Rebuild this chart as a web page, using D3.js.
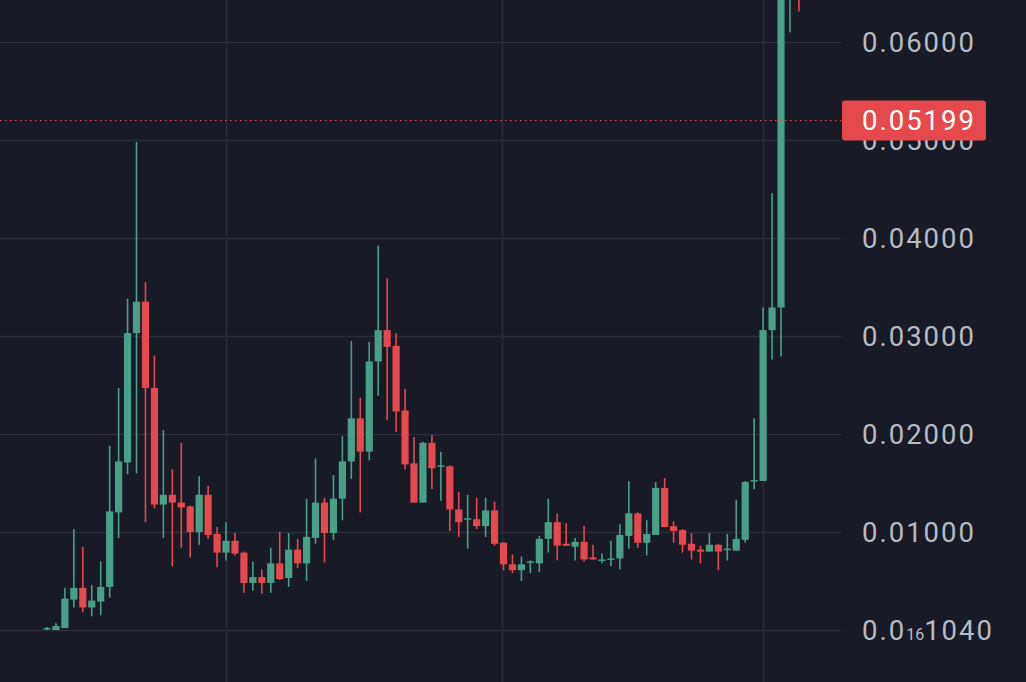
<!DOCTYPE html>
<html><head><meta charset="utf-8">
<script src="https://cdn.jsdelivr.net/npm/d3@7"></script>
<style>html,body{margin:0;padding:0;background:#181a25;overflow:hidden}</style>
</head><body><svg id="c" width="1026" height="682"></svg>
<script>
const opens = [.0001,0,.0002,.0031,.0043,.0023,.0029,.0044,.0120,.0171,.0303,.0335,.0247,.0128,.0138,.0130,.0126,.0100,.0138,.0098,.0079,.0091,.0079,.0048,.0054,.0048,.0068,.0053,.0082,.0068,.0094,.0130,.0099,.0134,.0172,.0216,.0182,.0274,.0306,.0290,.0224,.0170,.0130,.0191,.0167,.0167,.0123,.0113,.0113,.0106,.0122,.0089,.0067,.0061,.0069,.0068,.0093,.0110,.0088,.0085,.0090,.0074,.0071,.0072,.0073,.0096,.0119,.0089,.0097,.0145,.0106,.0102,.0088,.0082,.0080,.0087,.0082,.0081,.0092,.0152,.0152,.0306,.0329,.0700,.0720];
const highs = [.0003,.0007,.0043,.0103,.0085,.0046,.0070,.0188,.0247,.0338,.0498,.0355,.0280,.0204,.0164,.0191,.0127,.0157,.0147,.0105,.0110,.0099,.0080,.0070,.0062,.0084,.0100,.0099,.0093,.0134,.0175,.0135,.0158,.0198,.0295,.0237,.0294,.0392,.0359,.0303,.0246,.0197,.0192,.0199,.0182,.0168,.0141,.0138,.0135,.0135,.0131,.0090,.0077,.0075,.0071,.0096,.0134,.0119,.0109,.0094,.0106,.0087,.0078,.0091,.0108,.0152,.0120,.0112,.0151,.0155,.0111,.0103,.0099,.0086,.0099,.0088,.0098,.0133,.0152,.0216,.0329,.0446,.0720,.0780,.0760];
const lows = [0,0,.0002,.0023,.0018,.0014,.0015,.0033,.0094,.0159,.0160,.0110,.0124,.0094,.0065,.0084,.0074,.0087,.0093,.0064,.0071,.0076,.0038,.0040,.0037,.0038,.0051,.0044,.0063,.0050,.0088,.0069,.0092,.0112,.0154,.0120,.0173,.0239,.0214,.0202,.0164,.0130,.0130,.0144,.0132,.0101,.0095,.0083,.0103,.0095,.0086,.0061,.0058,.0050,.0058,.0059,.0079,.0071,.0086,.0071,.0070,.0072,.0068,.0065,.0062,.0083,.0084,.0076,.0097,.0105,.0089,.0079,.0072,.0068,.0080,.0061,.0071,.0081,.0089,.0144,.0152,.0276,.0279,.0610,.0631];
const closes = [.0002,.0004,.0032,.0043,.0023,.0030,.0044,.0121,.0172,.0303,.0335,.0247,.0128,.0138,.0130,.0125,.0100,.0138,.0097,.0079,.0091,.0078,.0048,.0054,.0048,.0068,.0052,.0082,.0068,.0095,.0130,.0099,.0134,.0172,.0216,.0182,.0274,.0306,.0289,.0223,.0169,.0130,.0191,.0165,.0168,.0123,.0110,.0114,.0106,.0122,.0088,.0067,.0061,.0067,.0070,.0093,.0110,.0086,.0086,.0090,.0072,.0072,.0072,.0073,.0097,.0119,.0089,.0098,.0145,.0105,.0101,.0087,.0081,.0080,.0087,.0080,.0083,.0093,.0151,.0153,.0306,.0329,.0700,.0750,.0660];
const tickValues = [0.06,0.05,0.04,0.03,0.02,0.01,1.04e-17];
const tickLabels = ["0.06000","0.05000","0.04000","0.03000","0.02000","0.01000","0.0|16|1040"];
const timeGrid = [20.0,50.8,80.0];
const lastPrice = 0.05199;

const svg = d3.select("#c");
const W=1026,H=682, plotR=841;
const UP="#48a087", DN="#e5484d";
svg.append("rect").attr("width",W).attr("height",H).attr("fill","#181a25");
const y = d3.scaleLinear().domain([0,0.06]).range([630,42]);
const x = d3.scaleLinear().domain([0,82]).range([47,781]);

const g = svg.append("g");
g.selectAll(".hg").data(tickValues).join("line").attr("x1",0).attr("x2",plotR)
 .attr("y1",d=>Math.round(y(d))+0.5).attr("y2",d=>Math.round(y(d))+0.5).attr("stroke","#2a2d38").attr("stroke-width",1.5);
g.selectAll(".vg").data(timeGrid).join("line").attr("y1",0).attr("y2",H)
 .attr("x1",d=>Math.round(x(d))+0.5).attr("x2",d=>Math.round(x(d))+0.5).attr("stroke","#2a2d38").attr("stroke-width",1.5);

svg.append("clipPath").attr("id","pc").append("rect").attr("width",plotR).attr("height",H);
const cg = svg.append("g").attr("clip-path","url(#pc)");
const idx = d3.range(opens.length);
const col = i=> closes[i]>=opens[i]?UP:DN;
cg.selectAll(".w").data(idx).join("line").attr("x1",i=>x(i)).attr("x2",i=>x(i))
 .attr("y1",i=>y(highs[i])).attr("y2",i=>y(lows[i])).attr("stroke",col).attr("stroke-width",1.6);
cg.selectAll(".b").data(idx).join("rect").attr("x",i=>x(i)-3.6).attr("width",7.2)
 .attr("y",i=>y(Math.max(opens[i],closes[i])))
 .attr("height",i=>Math.max(1.5,Math.abs(y(opens[i])-y(closes[i])))).attr("fill",col);

svg.append("line").attr("x1",0).attr("x2",plotR).attr("y1",y(lastPrice)).attr("y2",y(lastPrice))
 .attr("stroke",DN).attr("stroke-width",1.2).attr("stroke-dasharray","1.5,3.5");

const FONT="Roboto, 'Noto Sans', sans-serif";
const ax = svg.append("g").attr("font-family",FONT).attr("font-size",27.5).attr("letter-spacing",2).attr("fill","#b8bbc3");
tickValues.forEach((v,k)=>{
  const t = ax.append("text").attr("x",862).attr("y",y(v)+10);
  const parts = tickLabels[k].split("|");
  if(parts.length===1) t.text(parts[0]);
  else { t.append("tspan").text(parts[0]); t.append("tspan").attr("font-size",16).attr("letter-spacing",0).text(parts[1]); t.append("tspan").text(parts[2]); }
});
svg.append("rect").attr("x",842).attr("y",y(lastPrice)-20).attr("width",144).attr("height",40).attr("rx",3).attr("fill",DN);
svg.append("text").attr("x",862).attr("y",y(lastPrice)+10).attr("font-family",FONT).attr("letter-spacing",2)
 .attr("font-size",27.5).attr("fill","#ffffff").text(d3.format(".5f")(lastPrice));
</script></body></html>
